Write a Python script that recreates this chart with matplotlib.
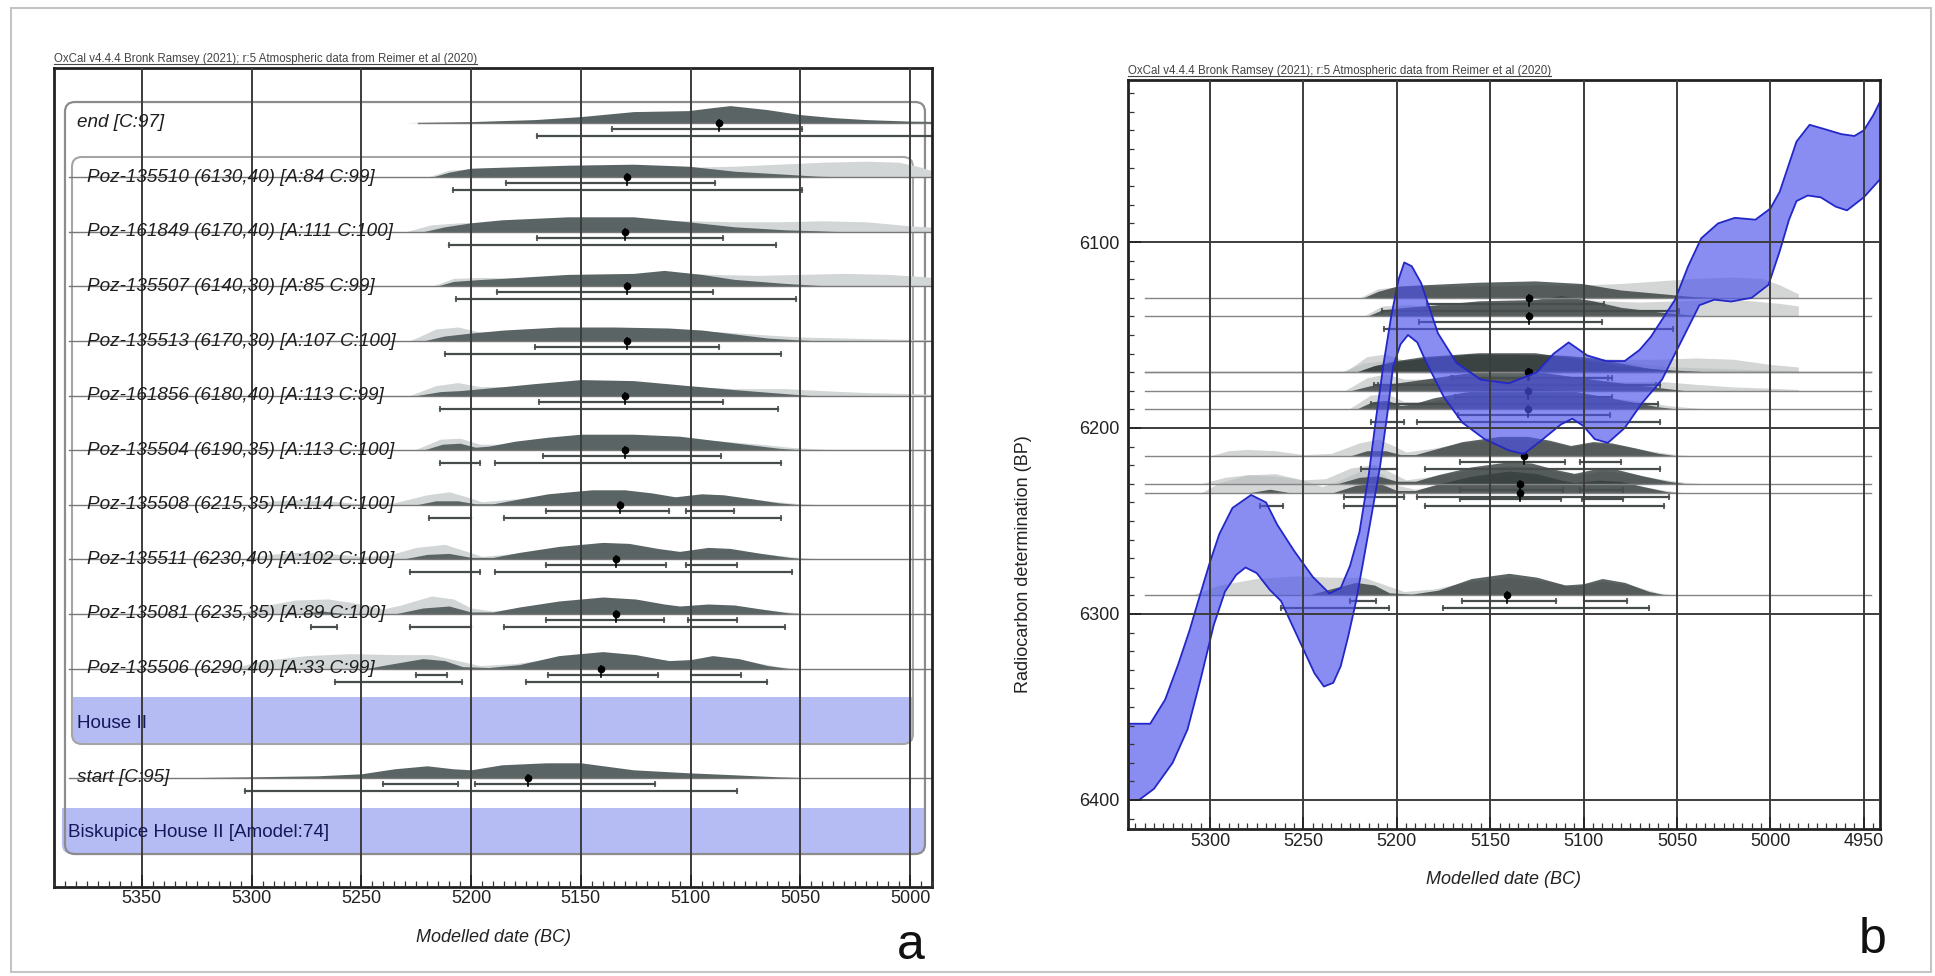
import matplotlib
matplotlib.use('Agg')
import matplotlib.pyplot as plt
from matplotlib.patches import FancyBboxPatch, Rectangle
from matplotlib.lines import Line2D
from matplotlib.ticker import MultipleLocator
from matplotlib.transforms import blended_transform_factory

plt.rcParams['font.family'] = ['Liberation Sans', 'DejaVu Sans']

# ---------------- data ----------------
dist_names = ['end [C:97]',
              'Poz-135510 (6130,40) [A:84 C:99]',
              'Poz-161849 (6170,40) [A:111 C:100]',
              'Poz-135507 (6140,30) [A:85 C:99]',
              'Poz-135513 (6170,30) [A:107 C:100]',
              'Poz-161856 (6180,40) [A:113 C:99]',
              'Poz-135504 (6190,35) [A:113 C:100]',
              'Poz-135508 (6215,35) [A:114 C:100]',
              'Poz-135511 (6230,40) [A:102 C:100]',
              'Poz-135081 (6235,35) [A:89 C:100]',
              'Poz-135506 (6290,40) [A:33 C:99]',
              'start [C:95]']
dist_rows = [0, 1, 2, 3, 4, 5, 6, 7, 8, 9, 10, 12]
dist_bp = [None, 6130, 6170, 6140, 6170, 6180, 6190, 6215, 6230, 6235, 6290, None]

group_names = ['House II', 'Biskupice House II [Amodel:74]']
group_rows = [11, 13]

# (date BC, height in pixels) - modelled (dark) distributions
posterior = [
    [(5230, 0), (5200, 1), (5186, 2), (5171, 3), (5150, 6), (5126, 11), (5101, 12), (5090, 15),
     (5082, 17), (5065, 13), (5050, 8), (5035, 5), (5020, 3), (5000, 1.5), (4985, 1)],
    [(5218, 0), (5210, 5), (5200, 9), (5186, 10), (5156, 12), (5126, 13), (5101, 11), (5080, 6),
     (5057, 3), (5042, 1), (5025, 0)],
    [(5222, 0), (5212, 5), (5200, 9), (5186, 12), (5156, 15), (5126, 15), (5101, 10), (5080, 5),
     (5057, 2), (5042, 1), (5030, 0)],
    [(5216, 0), (5208, 5), (5195, 7), (5186, 8), (5156, 12), (5126, 13), (5112, 16), (5095, 12),
     (5080, 7), (5057, 3), (5042, 1), (5030, 0)],
    [(5222, 0), (5212, 5), (5200, 8), (5185, 11), (5160, 14), (5135, 14), (5110, 13), (5095, 11),
     (5080, 7), (5065, 3), (5050, 1), (5040, 0)],
    [(5225, 0), (5214, 4), (5205, 5), (5195, 7), (5185, 9), (5171, 12), (5150, 16), (5126, 15),
     (5101, 10), (5080, 6), (5057, 2), (5045, 0)],
    [(5222, 0), (5213, 6), (5205, 7), (5198, 3), (5192, 4), (5180, 9), (5165, 13), (5150, 16),
     (5126, 16), (5105, 14), (5090, 10), (5075, 6), (5060, 2), (5048, 0)],
    [(5225, 0), (5216, 4), (5206, 4), (5198, 1), (5190, 1), (5180, 5), (5165, 11), (5145, 15),
     (5130, 15), (5118, 12), (5107, 8), (5095, 11), (5085, 10), (5072, 6), (5060, 2), (5050, 0)],
    [(5232, 0), (5220, 5), (5210, 6), (5200, 2), (5190, 2), (5178, 7), (5160, 13), (5140, 17),
     (5128, 16), (5115, 11), (5105, 8), (5092, 12), (5082, 11), (5068, 6), (5055, 2), (5045, 0)],
    [(5280, 0), (5268, 3), (5256, 0), (5235, 0), (5222, 6), (5210, 8), (5200, 2), (5190, 2),
     (5178, 7), (5160, 13), (5140, 17), (5125, 15), (5112, 10), (5105, 8), (5092, 10), (5080, 9),
     (5068, 5), (5055, 1), (5045, 0)],
    [(5248, 0), (5238, 4), (5222, 10), (5212, 8), (5204, 2), (5192, 1), (5178, 4), (5160, 13),
     (5140, 17), (5125, 14), (5110, 8), (5100, 9), (5090, 13), (5078, 10), (5065, 3), (5055, 0)],
    [(5335, 0), (5300, 1), (5270, 2), (5250, 4), (5235, 9), (5220, 12), (5208, 9), (5200, 8),
     (5186, 13), (5166, 15), (5150, 15), (5126, 8), (5101, 5), (5080, 3), (5060, 1), (5045, 0)],
]

# unmodelled (light) calibrated distributions
prior = [
    [],
    [(5220, 0), (5210, 7), (5195, 9), (5175, 9), (5150, 9), (5125, 10), (5100, 10), (5080, 11),
     (5060, 13), (5040, 15), (5020, 16), (5005, 15), (4995, 10), (4985, 3)],
    [(5230, 0), (5218, 7), (5205, 9), (5186, 10), (5156, 12), (5126, 12), (5100, 11), (5080, 10),
     (5060, 10), (5040, 11), (5020, 10), (5000, 6), (4985, 4)],
    [(5218, 0), (5208, 8), (5195, 9), (5175, 8), (5150, 10), (5125, 12), (5110, 14), (5090, 12),
     (5070, 11), (5050, 12), (5030, 13), (5010, 12), (4995, 10), (4985, 8)],
    [(5228, 0), (5216, 12), (5206, 14), (5196, 9), (5180, 9), (5155, 11), (5130, 12), (5105, 11),
     (5085, 9), (5065, 6), (5050, 4), (5030, 3), (5010, 2), (4985, 1)],
    [(5228, 0), (5216, 10), (5206, 13), (5196, 9), (5180, 9), (5160, 11), (5130, 11), (5100, 9),
     (5080, 7), (5057, 7), (5040, 5), (5020, 3), (5000, 2), (4985, 1)],
    [(5226, 0), (5214, 11), (5205, 12), (5196, 6), (5185, 6), (5165, 10), (5145, 12), (5120, 12),
     (5100, 11), (5085, 9), (5068, 6), (5055, 3), (5040, 1), (5025, 0)],
    [(5300, 0), (5290, 4), (5280, 5), (5265, 4), (5250, 1), (5235, 2), (5220, 10), (5210, 13),
     (5202, 8), (5195, 3), (5180, 6), (5165, 10), (5145, 13), (5130, 13), (5115, 10), (5107, 7),
     (5095, 10), (5080, 8), (5065, 4), (5050, 1), (5040, 0)],
    [(5305, 0), (5292, 5), (5280, 7), (5265, 6), (5250, 3), (5238, 4), (5225, 12), (5212, 15),
     (5202, 8), (5195, 3), (5180, 6), (5160, 11), (5140, 14), (5125, 13), (5112, 9), (5103, 7),
     (5090, 10), (5075, 8), (5060, 4), (5045, 1), (5035, 0)],
    [(5305, 0), (5295, 8), (5280, 14), (5265, 15), (5250, 10), (5240, 5), (5232, 9), (5218, 18),
     (5208, 15), (5200, 6), (5190, 3), (5175, 7), (5155, 12), (5140, 14), (5125, 12), (5110, 8),
     (5100, 7), (5090, 9), (5075, 7), (5060, 3), (5045, 0)],
    [(5310, 0), (5295, 8), (5275, 13), (5255, 15), (5235, 14), (5218, 14), (5206, 8), (5196, 3),
     (5180, 5), (5160, 11), (5140, 14), (5120, 11), (5105, 7), (5090, 11), (5075, 8), (5060, 2),
     (5050, 0)],
    [],
]

means = [5087, 5129, 5130, 5129, 5129, 5130, 5130, 5132, 5134, 5134, 5141, 5174]
range68 = [[(5136, 5049)], [(5184, 5089)], [(5170, 5085)], [(5188, 5090)], [(5171, 5087)],
           [(5169, 5085)], [(5167, 5086)], [(5166, 5110), (5102, 5080)],
           [(5166, 5111), (5102, 5079)], [(5166, 5112), (5101, 5079)],
           [(5225, 5211), (5165, 5115), (5100, 5077)], [(5240, 5206), (5198, 5116)]]
range95 = [[(5170, 4985)], [(5208, 5049)], [(5210, 5061)], [(5207, 5052)], [(5212, 5059)],
           [(5214, 5060)], [(5214, 5196), (5189, 5059)], [(5219, 5200), (5185, 5059)],
           [(5228, 5196), (5189, 5054)], [(5273, 5261), (5228, 5200), (5185, 5057)],
           [(5262, 5204), (5175, 5065)], [(5303, 5079)]]

# IntCal20 band: upper (lower BP) and lower (higher BP) edges
cal_lo = [(5344, 6359), (5332, 6359), (5324, 6346), (5317, 6327), (5311, 6309), (5306, 6292),
          (5300, 6272), (5295, 6257), (5288, 6243), (5278, 6236), (5270, 6240), (5264, 6252),
          (5255, 6266), (5245, 6280), (5236, 6289), (5230, 6286), (5225, 6274), (5220, 6256),
          (5215, 6225), (5211, 6194), (5207, 6165), (5203, 6140), (5199, 6120), (5196, 6111),
          (5192, 6113), (5187, 6122), (5178, 6149), (5168, 6165), (5155, 6174), (5140, 6176),
          (5125, 6170), (5116, 6160), (5108, 6154), (5098, 6161), (5088, 6164), (5078, 6164),
          (5070, 6158), (5064, 6151), (5051, 6131), (5044, 6113), (5037, 6098), (5028, 6090),
          (5019, 6087), (5008, 6088), (5000, 6082), (4995, 6073), (4986, 6046), (4979, 6037),
          (4972, 6039), (4962, 6042), (4955, 6043), (4950, 6040), (4945, 6032), (4941, 6024)]
cal_hi = [(5344, 6400), (5338, 6400), (5330, 6394), (5320, 6380), (5312, 6362), (5305, 6335),
          (5298, 6306), (5292, 6288), (5286, 6279), (5281, 6275), (5275, 6278), (5268, 6287),
          (5262, 6293), (5256, 6306), (5250, 6319), (5244, 6332), (5239, 6339), (5234, 6337),
          (5230, 6328), (5226, 6312), (5222, 6294), (5218, 6272), (5213, 6244), (5209, 6221),
          (5205, 6192), (5202, 6167), (5198, 6155), (5194, 6150), (5189, 6154), (5185, 6163),
          (5175, 6183), (5165, 6197), (5153, 6206), (5140, 6212), (5132, 6214), (5123, 6207),
          (5112, 6198), (5106, 6195), (5100, 6199), (5094, 6206), (5087, 6208), (5078, 6200),
          (5069, 6187), (5058, 6174), (5049, 6156), (5038, 6134), (5030, 6131), (5021, 6132),
          (5010, 6130), (5001, 6123), (4995, 6105), (4990, 6088), (4986, 6078), (4980, 6075),
          (4973, 6076), (4965, 6081), (4959, 6083), (4950, 6076), (4941, 6066)]

credit = 'OxCal v4.4.4 Bronk Ramsey (2021); r:5 Atmospheric data from Reimer et al (2020)'

# ---------------- figure ----------------
W, H = 1935, 976
fig = plt.figure(figsize=(W / 100, H / 100), dpi=100)


def fbox(x0, y0, x1, y1):
    # pixel box (top-left origin) -> figure fraction rect
    return [x0 / W, 1 - y1 / H, (x1 - x0) / W, (y1 - y0) / H]


axa = fig.add_axes(fbox(54, 68, 932, 887))
axb = fig.add_axes(fbox(1128, 80, 1880, 829))

dark = '#5b6464'
light = '#d2d6d6'
barc = '#474c4c'


def draw_dist(ax, pts, y0, scale, color, alpha=1.0, z=1.0):
    if not pts:
        return
    xs = [p[0] for p in pts]
    ys = [y0 - p[1] * scale for p in pts]
    ax.fill_between(xs, y0, ys, color=color, alpha=alpha, lw=0, zorder=z)


def draw_ranges(ax, y0, scale, r68, r95, mean):
    for a, b in r68:
        ax.plot([a, b], [y0 + 6 * scale] * 2, color=barc, lw=1.6, marker='|', ms=4,
                mew=1.2, zorder=2)
    for a, b in r95:
        ax.plot([a, b], [y0 + 13 * scale] * 2, color=barc, lw=1.6, marker='|', ms=4,
                mew=1.2, zorder=2)
    ax.plot([mean, mean], [y0 - 3 * scale, y0 + 8 * scale], color='k', lw=1.2, zorder=2.2)
    ax.plot(mean, y0, 'o', color='k', ms=4.5, zorder=2.2)


# ---------- panel a ----------
axa.set_xlim(5390, 4990)
axa.set_ylim(14.0, -1.0)
sa = 1 / 54.6
asp = 2.195 / 54.6
rr = 4.5

outer = FancyBboxPatch((4993.2, -0.377), 5385 - 4993.2, 13.773,
                       boxstyle='round,pad=0,rounding_size=%g' % rr, mutation_aspect=asp,
                       fc='none', ec='#8c8c8c', lw=1.6, zorder=0.8)
axa.add_patch(outer)
inner = FancyBboxPatch((4998.7, 0.63), 5381.8 - 4998.7, 10.751,
                       boxstyle='round,pad=0,rounding_size=%g' % rr, mutation_aspect=asp,
                       fc='none', ec='#a5a5a5', lw=1.5, zorder=0.8)
axa.add_patch(inner)

band_col = '#b5bcf4'
for (x0, x1, y0, y1) in [(4998.7, 5381.8, 10.52, 11.381), (4993.2, 5386.4, 12.553, 13.396)]:
    axa.add_patch(FancyBboxPatch((x0, y0), x1 - x0, y1 - y0,
                                 boxstyle='round,pad=0,rounding_size=%g' % rr,
                                 mutation_aspect=asp, fc=band_col, ec='none', zorder=0.6))
    axa.add_patch(Rectangle((x0, y0), x1 - x0, (y1 - y0) / 2, fc=band_col, ec='none',
                            zorder=0.6))

tr_a = blended_transform_factory(axa.transAxes, axa.transData)
for i, r in enumerate(dist_rows):
    if i == 0:
        axa.plot([5224, 4990], [r, r], color='#777', lw=1.0, zorder=1.5)
    else:
        axa.plot([5383, 4990], [r, r], color='#777', lw=1.0, zorder=1.5)
    draw_dist(axa, prior[i], r, sa, light, z=1.0)
    draw_dist(axa, posterior[i], r, sa, dark, z=1.1)
    draw_ranges(axa, r, sa, range68[i], range95[i], means[i])
    lx = 0.0376 if 1 <= i <= 10 else 0.026
    axa.text(lx, r, dist_names[i], transform=tr_a, fontsize=13.6, style='italic',
             color='#1e1e1e', va='center', ha='left', zorder=3)

for name, r, lx in zip(group_names, group_rows, [0.026, 0.016]):
    axa.text(lx, r, name, transform=tr_a, fontsize=13.6, color='#15175a', va='center',
             ha='left', zorder=3)

axa.set_xticks([5350, 5300, 5250, 5200, 5150, 5100, 5050, 5000])
axa.xaxis.set_minor_locator(MultipleLocator(5))
axa.set_yticks([])
axa.tick_params(axis='x', which='major', direction='in', length=9, width=1.2,
                labelsize=13, pad=2, colors='#222')
axa.tick_params(axis='x', which='minor', direction='in', length=4, width=0.9, colors='#333')
axa.grid(axis='x', color='#3c3c3c', lw=1.4)
axa.set_axisbelow(False)
for s in axa.spines.values():
    s.set_linewidth(2)
    s.set_color('#222')

# ---------- panel b ----------
axb.set_xlim(5343.9, 4941.3)
axb.set_ylim(6415.6, 6012.9)
sb = 1.3 / 1.86

for i, bpv in enumerate(dist_bp):
    if bpv is None:
        continue
    axb.plot([5335, 4946], [bpv, bpv], color='#858585', lw=1.0, zorder=1.5)
    draw_dist(axb, prior[i], bpv, sb, '#b8bcbc', alpha=0.6, z=1.0)
    draw_dist(axb, posterior[i], bpv, sb, '#353d3d', alpha=0.8, z=1.1)
    draw_ranges(axb, bpv, 1 / 1.86, range68[i], range95[i], means[i])

poly_x = [p[0] for p in cal_lo] + [p[0] for p in cal_hi[::-1]]
poly_y = [p[1] for p in cal_lo] + [p[1] for p in cal_hi[::-1]]
axb.fill(poly_x, poly_y, fc='#4c53ea', alpha=0.66, ec='none', zorder=2.3)
axb.plot([p[0] for p in cal_lo], [p[1] for p in cal_lo], color='#2327c8', lw=1.3, zorder=2.35)
axb.plot([p[0] for p in cal_hi], [p[1] for p in cal_hi], color='#2327c8', lw=1.3, zorder=2.35)

axb.set_xticks([5300, 5250, 5200, 5150, 5100, 5050, 5000, 4950])
axb.xaxis.set_minor_locator(MultipleLocator(5))
axb.set_yticks([6100, 6200, 6300, 6400])
axb.yaxis.set_minor_locator(MultipleLocator(10))
axb.tick_params(which='major', direction='in', length=9, width=1.2, labelsize=13,
                pad=3, colors='#222')
axb.tick_params(which='minor', direction='in', length=4, width=0.9, colors='#333')
axb.tick_params(axis='y', pad=6)
axb.grid(True, color='#3c3c3c', lw=1.4)
axb.set_axisbelow(False)
for s in axb.spines.values():
    s.set_linewidth(2)
    s.set_color('#222')

# ---------- texts ----------
ta = axa.text(0, 1.004, credit, transform=axa.transAxes, fontsize=8.3, color='#444',
              ha='left', va='bottom')
tb = axb.text(0, 1.004, credit, transform=axb.transAxes, fontsize=8.3, color='#444',
              ha='left', va='bottom')

fig.text(493 / W, 1 - 938 / H, 'Modelled date (BC)', fontsize=13, style='italic',
         color='#222', ha='center', va='center')
fig.text(1504 / W, 1 - 880 / H, 'Modelled date (BC)', fontsize=13, style='italic',
         color='#222', ha='center', va='center')
fig.text(1024 / W, 1 - 564 / H, 'Radiocarbon determination (BP)', fontsize=13,
         color='#222', rotation=90, ha='center', va='center')
fig.text(911 / W, 1 - 946 / H, 'a', fontsize=36, color='#111', ha='center', va='center')
fig.text(1873 / W, 1 - 940 / H, 'b', fontsize=36, color='#111', ha='center', va='center')

fig.patches.append(Rectangle((11 / W, 1 - 972 / H), (1931 - 11) / W, (972 - 8) / H,
                             transform=fig.transFigure, fill=False, ec='#c4c4c4', lw=1.5))

fig.canvas.draw()
rend = fig.canvas.get_renderer()
for t in (ta, tb):
    bb = t.get_window_extent(rend)
    fig.add_artist(Line2D([bb.x0 / W, bb.x1 / W], [(bb.y0 + 1) / H] * 2,
                          transform=fig.transFigure, color='#444', lw=0.8))

fig.savefig('out.png', dpi=100)
